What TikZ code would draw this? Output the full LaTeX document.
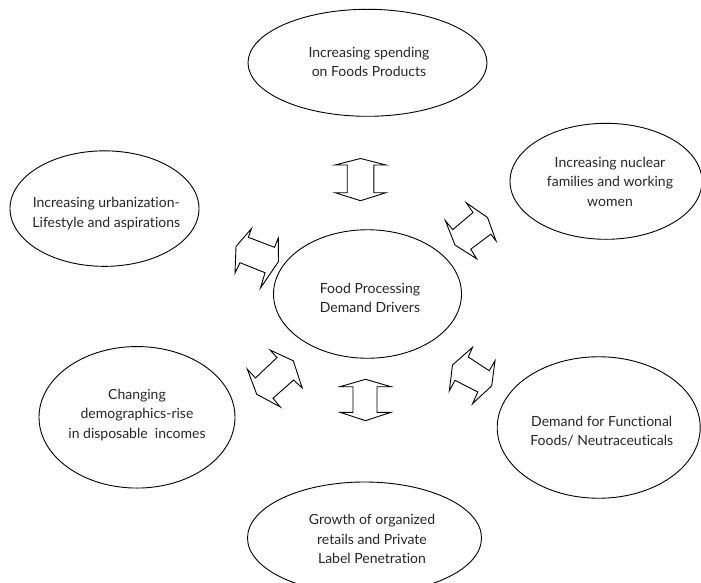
\documentclass[tikz,border=0pt]{standalone}
\usepackage{fontspec}
\setmainfont{Lato}[Ligatures={NoCommon}]
\usetikzlibrary{shapes.geometric}
\tikzset{
  oval/.style={draw=black, line width=0.9pt, ellipse, inner sep=0pt},
  lbl/.style={align=center, font=\fontsize{14}{19.5}\selectfont, text=black!85, inner sep=0pt},
  blockarrow/.style={draw=black, line width=0.9pt, fill=white, line join=miter}
}
\begin{document}
\begin{tikzpicture}[x=1pt, y=-1pt]
\useasboundingbox (0,0) rectangle (701,583);
% ellipses
\node[oval, minimum width=239pt, minimum height=107pt] (top) at (367.5,62.8) {};
\node[oval, minimum width=189pt, minimum height=115.5pt] (ul) at (104.5,208.6) {};
\node[oval, minimum width=192pt, minimum height=116pt] (ur) at (606,181.3) {};
\node[oval, minimum width=188pt, minimum height=128.5pt] (ctr) at (367.5,294) {};
\node[oval, minimum width=196pt, minimum height=141.5pt] (ll) at (137,417.3) {};
\node[oval, minimum width=203pt, minimum height=141.5pt] (lr) at (598.7,427.5) {};
\node[oval, minimum width=234pt, minimum height=112pt] (bot) at (364.5,538) {};
% texts
\node[lbl] (ttop) at (369,62) {Increasing spending\\on Foods Products};
\node[lbl] (tul) at (106.3,213.5) {Increasing urbanization-\\Lifestyle and aspirations};
\node[lbl] (tur) at (610,181.5) {Increasing nuclear\\families and working\\women};
\node[lbl] (tctr) at (370,298) {Food Processing\\Demand Drivers};
\node[lbl] (tll) at (137,414.7) {Changing\\demographics-rise\\in disposable~~incomes};
\node[lbl] (tlr) at (601.7,431) {Demand for Functional\\Foods/ Neutraceuticals};
\node[lbl] (tbot) at (372,539) {Growth of organized\\retails and Private\\Label Penetration};
% block arrows
\draw[blockarrow] (360.5,158.5) -- (386,165) -- (373.8,165) -- (373.8,192.7) -- (386,192.7) -- (360.5,200.7) -- (335,192.7) -- (347.2,192.7) -- (347.2,165) -- (335,165) -- cycle;
\draw[blockarrow] (365.5,379.3) -- (391,386.7) -- (377,386.7) -- (377,412.3) -- (391,412.3) -- (365.5,420.7) -- (340,412.3) -- (353,412.3) -- (353,386.7) -- (340,386.7) -- cycle;
\draw[blockarrow] (251.5,228.5) -- (248.3,237.3) -- (274.5,247.3) -- (278.3,238) -- (278.5,261.5) -- (260.5,288) -- (265,272.7) -- (240,262.7) -- (235,273) -- (236,246.5) -- cycle;
\draw[blockarrow] (466.3,202.8) -- (487.5,217.5) -- (496,240.8) -- (490.8,234.2) -- (470.8,249.2) -- (476.7,258.8) -- (455,245) -- (445.3,220.5) -- (452.7,229.7) -- (473,212.5) -- cycle;
\draw[blockarrow] (270,350) -- (293.3,360.8) -- (302.2,388) -- (293.6,380) -- (273,398.3) -- (280.3,407) -- (256.7,394.2) -- (247.3,369.2) -- (255.5,378) -- (277,357.5) -- cycle;
\draw[blockarrow] (472.5,347.3) -- (468.3,357) -- (489.2,370.7) -- (495,360.8) -- (491.7,385.8) -- (472.5,403.7) -- (477.8,392) -- (455,380.3) -- (449.3,390.8) -- (452.5,365) -- cycle;
\end{tikzpicture}
\end{document}
